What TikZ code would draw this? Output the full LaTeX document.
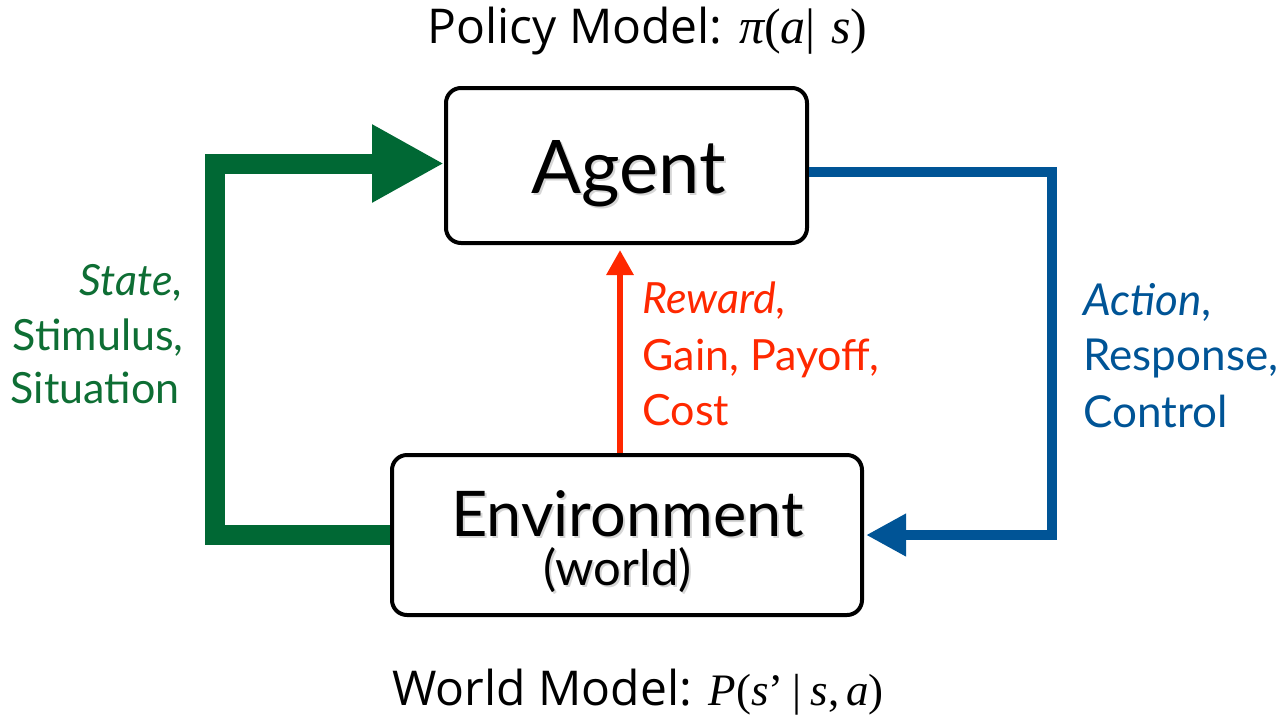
\documentclass[tikz,border=0pt]{standalone}
\usepackage{fontspec}
\setmainfont{Lato}
\newfontfamily\uifont{Open Sans}
\newfontfamily\formulafont{Liberation Serif}
\newcommand\mvar[1]{{\itshape #1}}
\usetikzlibrary{arrows.meta}

\definecolor{stategreen}{RGB}{0,104,52}
\definecolor{labelgreen}{RGB}{14,110,52}
\definecolor{actionblue}{RGB}{0,84,150}
\definecolor{rewardred}{RGB}{255,40,0}

\begin{document}
\begin{tikzpicture}[x=0.5pt,y=-0.5pt,
  box/.style={draw=black, line width=2pt, rounded corners=7.5pt,
    inner sep=0pt, fill=white},
  boxtext/.style={inner sep=0pt, anchor=base},
  textshadow/.style={inner sep=0pt, anchor=base, text=black, opacity=0.16},
  lbl/.style={inner sep=0pt, font=\fontsize{21.5}{25}\selectfont},
  caption/.style={inner sep=0pt, anchor=base west,
    font=\uifont\fontsize{24}{28}\selectfont},
  stateflow/.style={draw=stategreen, line width=10pt, line join=miter,
    -{Triangle[length=36pt,width=36.5pt]}},
  actionflow/.style={draw=actionblue, line width=5pt, line join=miter,
    -{Triangle[length=20pt,width=20pt]}, shorten >=1pt},
  rewardflow/.style={draw=rewardred, line width=3pt,
    -{Triangle[length=12.5pt,width=13pt]}}
]
\useasboundingbox (0,0) rectangle (1278,718);

% the two boxes
\node[box, minimum width=180.5pt, minimum height=77.5pt] (agent) at (626.5,165.5) {};
\node[box, minimum width=235pt, minimum height=80pt] (env) at (627,535) {};

% box titles with a soft drop shadow
\node[textshadow, font=\fontsize{37}{40}\selectfont] (agentsh) at (631,195) {Agent};
\node[boxtext, font=\fontsize{37}{40}\selectfont] (agentlbl) at (629,193) {Agent};
\node[textshadow, text depth=0pt, font=\fontsize{31.5}{34}\selectfont] (envsh) at (629.5,538) {Environment};
\node[boxtext, text depth=0pt, font=\fontsize{31.5}{34}\selectfont] (envlbl) at (627.5,536) {Environment};
\node[textshadow, text height=15pt, font=\fontsize{24.5}{27}\selectfont] (worldsh) at (619.5,587) {(world)};
\node[boxtext, text height=15pt, font=\fontsize{24.5}{27}\selectfont] (worldlbl) at (617.5,585) {(world)};

% feedback loop
\draw[stateflow] (env.west) -- ++(-175.5,0) |- ([yshift=1pt]agent.west);
\draw[actionflow] ([yshift=-3.25pt]agent.east) -- ++(243,0) |- (env.east);
\draw[rewardflow] ([xshift=-3.5pt]env.north) -- ([xshift=-3.25pt,yshift=-2.5pt]agent.south);

% loop labels
\node[lbl, text=labelgreen, anchor=base east] (state1) at (183,295) {\itshape State,};
\node[lbl, text=labelgreen, anchor=base east] (state2) at (184,350) {Stimulus,};
\node[lbl, text=labelgreen, anchor=base east] (state3) at (180,403) {Situation};

\node[lbl, text=rewardred, anchor=base west] (reward1) at (642,313) {\itshape Reward\upshape,};
\node[lbl, text=rewardred, anchor=base west] (reward2) at (642,370) {Gain, Payoff,};
\node[lbl, text=rewardred, anchor=base west] (reward3) at (642,425) {Cost};

\node[lbl, text=actionblue, anchor=base west, font=\fontsize{22}{25}\selectfont] (action1) at (1083,315) {\itshape Action\upshape,};
\node[lbl, text=actionblue, anchor=base west, font=\fontsize{22}{25}\selectfont] (action2) at (1083,370) {Response,};
\node[lbl, text=actionblue, anchor=base west, font=\fontsize{22}{25}\selectfont] (action3) at (1083,427) {Control};

% model captions
\node[caption] (policy) at (427,43)
  {Policy Model: {\formulafont\fontsize{25}{30}\selectfont\mvar{π}(\mvar{a}|\hspace{0.3em}\mvar{s})}};
\node[caption] (world) at (392,705)
  {World Model: {\formulafont\fontsize{22.5}{30}\selectfont\mvar{P}(\mvar{s}’\hspace{0.2em}|\hspace{0.2em}\mvar{s},\hspace{0.15em}\mvar{a})}};
\end{tikzpicture}
\end{document}
